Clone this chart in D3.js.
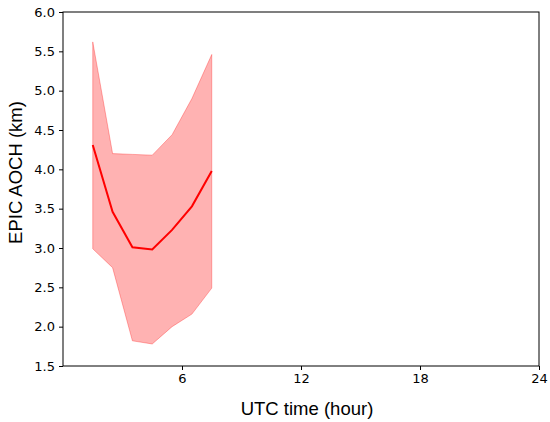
<!DOCTYPE html>
<html><head><meta charset="utf-8">
<script src="https://cdn.jsdelivr.net/npm/d3@7"></script>
<style>body{margin:0;background:#fff}svg{display:block}</style>
</head><body>
<svg id="c" width="550" height="422"></svg>
<script>
const hours = [1.5, 2.5, 3.5, 4.5, 5.5, 6.5, 7.5];
const meanVals = [4.31, 3.46, 3.01, 2.98, 3.23, 3.53, 3.98];
const upperVals = [5.62, 4.20, 4.19, 4.18, 4.44, 4.90, 5.46];
const lowerVals = [2.99, 2.75, 1.82, 1.78, 2.00, 2.16, 2.49];
const xTicks = [6, 12, 18, 24];
const yTicks = [1.5, 2.0, 2.5, 3.0, 3.5, 4.0, 4.5, 5.0, 5.5, 6.0];

const svg = d3.select('#c');
const m = {l: 63, r: 539, t: 12, b: 366};
const x = d3.scaleLinear().domain([0, 24]).range([m.l, m.r]);
const y = d3.scaleLinear().domain([1.5, 6.0]).range([m.b, m.t]);
const font = 'DejaVu Sans, sans-serif';
const lblFont = 'Liberation Sans, Arial, sans-serif';

const data = hours.map((h, i) => ({h, m: meanVals[i], u: upperVals[i], lo: lowerVals[i]}));

svg.append('path').datum(data)
  .attr('d', d3.area().x(d => x(d.h)).y0(d => y(d.lo)).y1(d => y(d.u)))
  .attr('fill', 'rgba(255,0,0,0.3)')
  .attr('stroke', 'rgba(255,0,0,0.3)').attr('stroke-width', 1);

svg.append('path').datum(data)
  .attr('d', d3.line().x(d => x(d.h)).y(d => y(d.m)))
  .attr('fill', 'none').attr('stroke', '#ff0000').attr('stroke-width', 2);

// frame
svg.append('rect').attr('x', m.l).attr('y', m.t).attr('width', m.r - m.l).attr('height', m.b - m.t)
  .attr('fill', 'none').attr('stroke', '#000').attr('stroke-width', 1);

const xa = svg.append('g').attr('transform', `translate(0,${m.b})`)
  .call(d3.axisBottom(x).tickValues(xTicks).tickSize(4).tickPadding(4).tickFormat(d3.format('d')));
const ya = svg.append('g').attr('transform', `translate(${m.l},0)`)
  .call(d3.axisLeft(y).tickValues(yTicks).tickSize(4).tickPadding(4).tickFormat(d3.format('.1f')));
[xa, ya].forEach(a => {
  a.select('.domain').remove();
  a.selectAll('text').attr('font-family', font).attr('font-size', 13).attr('fill', '#000');
  a.selectAll('line').attr('stroke', '#000');
});

svg.append('text').attr('x', (m.l + m.r) / 2 + 6).attr('y', 415).attr('text-anchor', 'middle')
  .attr('font-family', lblFont).attr('font-size', 18.5).text('UTC time (hour)');
svg.append('text').attr('transform', `translate(22,172.5) rotate(-90)`)
  .attr('text-anchor', 'middle').attr('font-family', lblFont).attr('font-size', 18.5).text('EPIC AOCH (km)');
</script>
</body></html>
